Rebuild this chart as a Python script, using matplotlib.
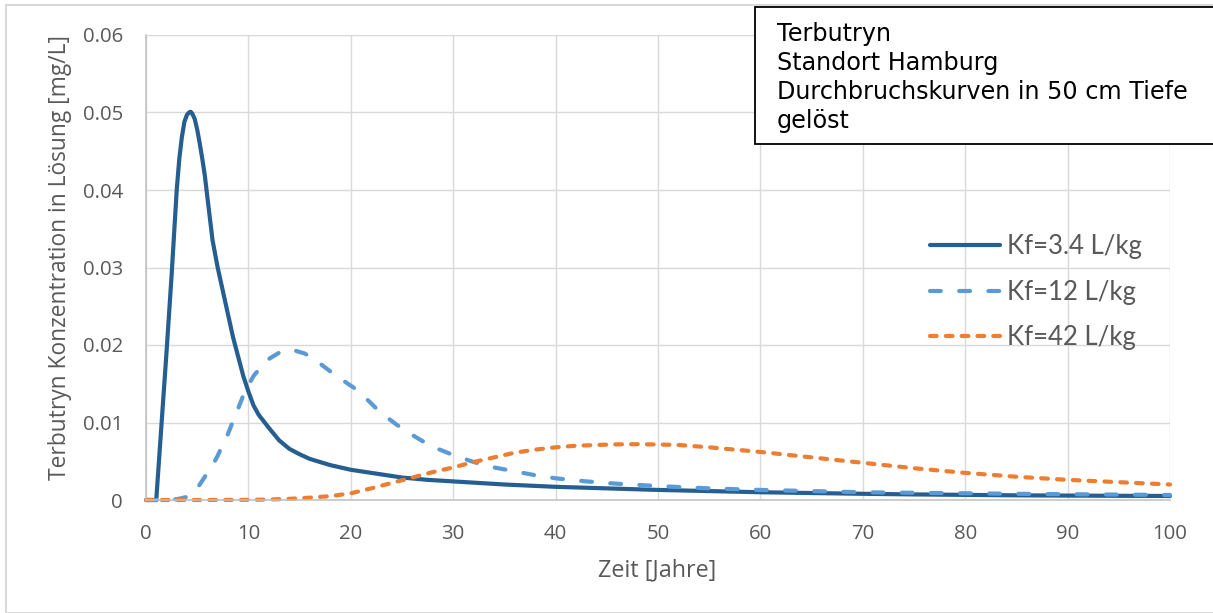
import matplotlib
matplotlib.use("Agg")
import matplotlib.pyplot as plt
from matplotlib.patches import Rectangle

# Breakthrough curves (time in years, concentration in mg/L)
years_kf34 = [0, 1.0, 1.5, 2.0, 2.5, 3.0, 3.25, 3.5, 3.75, 4.0, 4.2, 4.35, 4.5,
              4.75, 5.0, 5.25, 5.5, 5.75, 6.0, 6.5, 7.0, 7.5, 8.0, 8.5, 9.0,
              9.5, 10.0, 10.5, 11.0, 12.0, 13.0, 14.0, 15.0, 16.0, 17.0, 18.0,
              20.0, 22.5, 25.0, 27.5, 30.0, 35.0, 40.0, 45.0, 50.0, 55.0, 60.0,
              65.0, 70.0, 75.0, 80.0, 85.0, 90.0, 95.0, 100.0]
conc_kf34 = [0, 0, 0.0095, 0.019, 0.029, 0.0400, 0.0440, 0.0468, 0.0488, 0.0497,
             0.0500, 0.0501, 0.0499, 0.0492, 0.0478, 0.0460, 0.0440, 0.0418,
             0.0390, 0.0335, 0.030, 0.027, 0.024, 0.021, 0.0185, 0.016, 0.014,
             0.0122, 0.011, 0.0093, 0.0077, 0.0066, 0.0059, 0.0053, 0.0049,
             0.0045, 0.0039, 0.0034, 0.0029, 0.0026, 0.0024, 0.0020, 0.0017,
             0.0015, 0.0013, 0.00115, 0.0010, 0.0009, 0.0008, 0.00072, 0.00066,
             0.0006, 0.00057, 0.00054, 0.00052]

years_kf12 = [0, 1, 2, 3, 4, 4.5, 5, 5.5, 6, 6.5, 7, 7.5, 8, 8.5, 9, 9.5, 10,
              10.5, 11, 12, 13, 13.7, 14.5, 15.5, 16.5, 17.5, 18.5, 19.5, 20.5,
              21.5, 22.5, 23.5, 24.5, 25.5, 27, 28.5, 30, 32, 34, 36, 38, 40, 43,
              46, 50, 55, 60, 65, 70, 75, 80, 85, 90, 95, 100]
conc_kf12 = [0, 0, 0.00005, 0.0001, 0.0004, 0.0009, 0.0015, 0.0025, 0.0035,
             0.0045, 0.0057, 0.0072, 0.0085, 0.0102, 0.0118, 0.0135, 0.0148,
             0.016, 0.0168, 0.0182, 0.019, 0.0194, 0.0193, 0.0189, 0.0181,
             0.0171, 0.0161, 0.0152, 0.0143, 0.0131, 0.0118, 0.0107, 0.0097,
             0.0088, 0.0076, 0.0066, 0.0058, 0.0049, 0.0042, 0.0037, 0.0032,
             0.0028, 0.0024, 0.0021, 0.0018, 0.0015, 0.0013, 0.00115, 0.0010,
             0.00093, 0.00087, 0.0008, 0.00075, 0.0007, 0.00065]

years_kf42 = [0, 5, 10, 12, 14, 16, 18, 20, 22, 24, 26, 28, 30, 32, 34, 36, 38,
              40, 42, 44, 46, 48, 50, 52, 55, 60, 65, 70, 75, 80, 85, 90, 95, 100]
conc_kf42 = [0, 0, 0.00002, 0.00006, 0.00015, 0.0003, 0.0005, 0.00086, 0.0015,
             0.0022, 0.0029, 0.0036, 0.0042, 0.0049, 0.0055, 0.0061, 0.0065,
             0.0068, 0.0070, 0.0071, 0.00718, 0.0072, 0.00716, 0.0071, 0.0068,
             0.0062, 0.0055, 0.0048, 0.0041, 0.0035, 0.0030, 0.0026, 0.0023,
             0.0020]

series_labels = ["Kf=3.4 L/kg", "Kf=12 L/kg", "Kf=42 L/kg"]
x_ticks = list(range(0, 101, 10))
y_ticks = [0, 0.01, 0.02, 0.03, 0.04, 0.05, 0.06]
y_tick_labels = ["0", "0.01", "0.02", "0.03", "0.04", "0.05", "0.06"]
info_lines = ["Terbutryn", "Standort Hamburg",
              "Durchbruchskurven in 50 cm Tiefe", "gelöst"]

W, H = 1213, 613
fig = plt.figure(figsize=(W / 100, H / 100), dpi=100)
fig.patch.set_facecolor("white")

# outer chart frame
fig.patches.append(Rectangle((6 / W, 0), 1.2, 1 - 5 / H, transform=fig.transFigure,
                             facecolor="none", edgecolor="#D9D9D9", lw=1.5))

ax = fig.add_axes([146 / W, 1 - 500 / H, (1170 - 146) / W, (500 - 35) / H])
ax.set_xlim(0, 100)
ax.set_ylim(0, 0.06)
ax.set_xticks(x_ticks)
ax.set_yticks(y_ticks)
ax.set_yticklabels(y_tick_labels)
ax.grid(True, color="#D9D9D9", lw=1.0)
ax.set_axisbelow(True)
for side in ("top", "right"):
    ax.spines[side].set_visible(False)
for side in ("left", "bottom"):
    ax.spines[side].set_color("#BFBFBF")
    ax.spines[side].set_linewidth(1.1)
ax.tick_params(length=0, labelsize=14.7, labelcolor="#595959")
ax.tick_params(axis="y", pad=16.5)
ax.tick_params(axis="x", pad=17)
for lab in ax.get_xticklabels() + ax.get_yticklabels():
    lab.set_family("Open Sans")

c_dark, c_light, c_orange = "#255E91", "#5B9BD5", "#ED7D31"
lw = 3.0
l1, = ax.plot(years_kf34, conc_kf34, color=c_dark, lw=lw,
              solid_capstyle="round", solid_joinstyle="round", clip_on=False)
l2, = ax.plot(years_kf12, conc_kf12, color=c_light, lw=lw,
              linestyle=(0, (2.6, 4.4)), dash_capstyle="round", clip_on=False)
l3, = ax.plot(years_kf42, conc_kf42, color=c_orange, lw=lw,
              linestyle=(0, (1.6, 2.2)), dash_capstyle="round", clip_on=False)

leg = ax.legend([l1, l2, l3], series_labels, loc="upper left",
                bbox_to_anchor=(930 / W, 1 - 234 / H),
                bbox_transform=fig.transFigure, frameon=False,
                handlelength=2.72, handletextpad=0.27, labelspacing=0.8,
                borderpad=0, borderaxespad=0,
                prop={"family": "Lato", "size": 18.5})
for t in leg.get_texts():
    t.set_color("#595959")

fig.text(60 / W, 1 - 258 / H, "Terbutryn Konzentration in Lösung [mg/L]",
         rotation=90, ha="center", va="center", fontsize=16.4,
         family="Open Sans", color="#595959")
fig.text(657 / W, 1 - 570 / H, "Zeit [Jahre]", ha="center", va="center",
         fontsize=16.8, family="Open Sans", color="#595959")

# annotation box in the top right corner
fig.patches.append(Rectangle((755 / W, 1 - 144 / H), 0.5, (144 - 7) / H,
                             transform=fig.transFigure, facecolor="white",
                             edgecolor="black", lw=1.3, zorder=5))
for i, line in enumerate(info_lines):
    fig.text(777 / W, 1 - (33.5 + 29.3 * i) / H, line, ha="left", va="center",
             fontsize=17.2, family="DejaVu Sans", color="black", zorder=6)

fig.savefig("out.png", dpi=100)
